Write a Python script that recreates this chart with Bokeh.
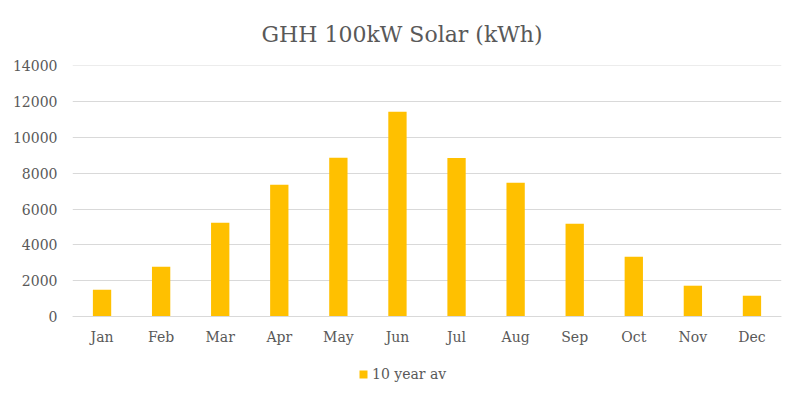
from bokeh.plotting import figure
from bokeh.models import Range1d, FactorRange, Legend, LegendItem, ColumnDataSource, Title, FixedTicker
from bokeh.embed import file_html
from bokeh.resources import INLINE

months = ["Jan", "Feb", "Mar", "Apr", "May", "Jun", "Jul", "Aug", "Sep", "Oct", "Nov", "Dec"]
values = [1490, 2780, 5230, 7360, 8870, 11440, 8860, 7470, 5180, 3340, 1720, 1160]
y_ticks = [0, 2000, 4000, 6000, 8000, 10000, 12000, 14000]
series_name = "10 year av"
title_text = "GHH 100kW Solar (kWh)"

FONT = "DejaVu Serif"
GRAY = "#595959"
GRID = "#d9d9d9"
BAR = "#FFC000"

# plot area: 251 px for 0..14020, plus 75 px below zero for the axis labels and legend
Y_TOP = 14020
PX_ABOVE = 251
PX_BELOW = 75
Y_BOTTOM = -PX_BELOW * Y_TOP / PX_ABOVE

src = ColumnDataSource(dict(month=months, value=values))

p = figure(frame_width=709, frame_height=PX_ABOVE + PX_BELOW, x_range=FactorRange(*months),
           y_range=Range1d(Y_BOTTOM, Y_TOP),
           output_backend="svg", toolbar_location=None,
           min_border_left=72, min_border_right=20, min_border_top=65, min_border_bottom=0)
t = Title(text=title_text, align="left", text_font=FONT, text_font_size="22px",
          text_color=GRAY, text_font_style="normal", standoff=38, offset=189)
p.add_layout(t, "above")

r = p.vbar(x="month", top="value", width=0.31, source=src, color=BAR, line_color=None)

p.outline_line_color = None
p.xgrid.grid_line_color = None
p.ygrid.grid_line_color = GRID
p.yaxis.ticker = FixedTicker(ticks=y_ticks)
p.yaxis.axis_line_color = None
p.yaxis.major_tick_line_color = None
p.yaxis.minor_tick_line_color = None
p.yaxis.major_label_text_font = FONT
p.yaxis.major_label_text_font_size = "14px"
p.yaxis.major_label_text_color = GRAY
p.yaxis.major_label_standoff = 9
p.xaxis.fixed_location = 0
p.xaxis.axis_line_color = GRID
p.xaxis.major_tick_line_color = None
p.xaxis.minor_tick_line_color = None
p.xaxis.major_label_text_font = FONT
p.xaxis.major_label_text_font_size = "14px"
p.xaxis.major_label_text_color = GRAY
p.xaxis.major_label_standoff = 6

legend = Legend(items=[LegendItem(label=series_name, renderers=[r])], orientation="horizontal",
                location=(286, 9), label_text_font=FONT, label_text_font_size="14px",
                label_text_color=GRAY, glyph_width=10, glyph_height=10, border_line_color=None,
                background_fill_alpha=0, margin=0, padding=4, label_standoff=4, label_height=16)
p.add_layout(legend, "center")

open("out.html", "w").write(file_html(p, INLINE))
